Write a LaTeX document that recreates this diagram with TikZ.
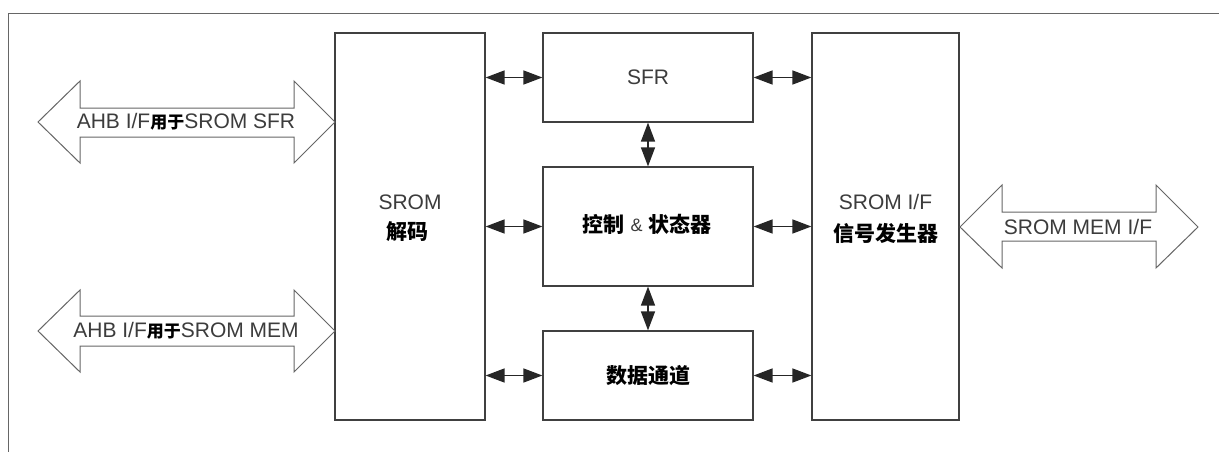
\documentclass[tikz,border=0pt]{standalone}
\usepackage{fontspec}
\setmainfont{Liberation Sans}
\newfontfamily\cjk{Noto Sans CJK SC}
\usetikzlibrary{arrows.meta}
\definecolor{linegray}{HTML}{404040}
\definecolor{txtgray}{HTML}{3C3C3C}
\newcommand{\zh}[1]{{\cjk\bfseries\color{black}#1}}
\begin{document}
\begin{tikzpicture}[x=1pt,y=-1pt,
  blk/.style={draw=linegray,line width=1.2pt,inner sep=0pt},
  lbl/.style={font=\fontsize{21}{24}\selectfont,text=txtgray,align=center,inner sep=0pt},
  biarrow/.style={line width=1.4pt,draw=black!85,{Triangle[length=19pt,width=14pt]}-{Triangle[length=19pt,width=14pt]}},
  bigarrow/.style={draw=gray!80!black,line width=1pt,fill=white,line join=miter}]
\useasboundingbox (0,0) rectangle (1219,452);
\fill[white] (0,0) rectangle (1219,452);
% frame
\draw[draw=gray!80!black,line width=1pt] (8,452) -- (8,14) -- (1219,14);

% boxes
\node[blk,minimum width=150pt,minimum height=387pt] (dec) at (410,226.5) {};
\node[blk,minimum width=210pt,minimum height=89pt] (sfr) at (648,77.5) {};
\node[blk,minimum width=210pt,minimum height=119pt] (ctl) at (648,226.5) {};
\node[blk,minimum width=210pt,minimum height=89pt] (dat) at (648,375.5) {};
\node[blk,minimum width=147pt,minimum height=387pt] (gen) at (885.5,226.5) {};

% labels
\node[lbl] (tsfr) at (sfr.center) {SFR};
\node[lbl] (tdec1) at (410,202) {SROM};
\node[lbl] (tdec2) at (407,232) {\zh{解码}};
\node[lbl] (tctl) at (647,224) {\zh{控制} \raisebox{1pt}{\fontsize{18}{20}\selectfont\&} \zh{状态器}};
\node[lbl] (tdat) at (648,376) {\zh{数据通道}};
\node[lbl] (tgen1) at (885.5,202) {SROM I/F};
\node[lbl] (tgen2) at (885.5,233) {\zh{信号发生器}};

% connectors
\coordinate (a1) at (dec.east |- sfr.west);
\coordinate (a2) at (dec.east |- ctl.west);
\coordinate (a3) at (dec.east |- dat.west);
\coordinate (b1) at (gen.west |- sfr.east);
\coordinate (b2) at (gen.west |- ctl.east);
\coordinate (b3) at (gen.west |- dat.east);
\draw[biarrow] (a1) -- (sfr.west);
\draw[biarrow] (a2) -- (ctl.west);
\draw[biarrow] (a3) -- (dat.west);
\draw[biarrow] (sfr.east) -- (b1);
\draw[biarrow] (ctl.east) -- (b2);
\draw[biarrow] (dat.east) -- (b3);
\draw[biarrow] (sfr.south) -- (ctl.north);
\draw[biarrow] (ctl.south) -- (dat.north);

% block arrows
\draw[bigarrow] (38,122) -- (80,81) -- (80,108) -- (294,108) -- (294,81) -- (335,122)
  -- (294,163) -- (294,137) -- (80,137) -- (80,163) -- cycle;
\node[lbl] (ahb1) at (186,122) {AHB I/F\zh{\fontsize{17}{18}\selectfont 用于}SROM SFR};

\draw[bigarrow] (38,331) -- (80,290) -- (80,316) -- (294,316) -- (294,290) -- (335,331)
  -- (294,372) -- (294,346) -- (80,346) -- (80,372) -- cycle;
\node[lbl] (ahb2) at (186,331) {AHB I/F\zh{\fontsize{17}{18}\selectfont 用于}SROM MEM};

\draw[bigarrow] (960,227) -- (1002,185) -- (1002,212) -- (1156,212) -- (1156,185) -- (1198,227)
  -- (1156,268) -- (1156,241) -- (1002,241) -- (1002,268) -- cycle;
\node[lbl] (mem) at (1078,227) {SROM MEM I/F};
\end{tikzpicture}
\end{document}
